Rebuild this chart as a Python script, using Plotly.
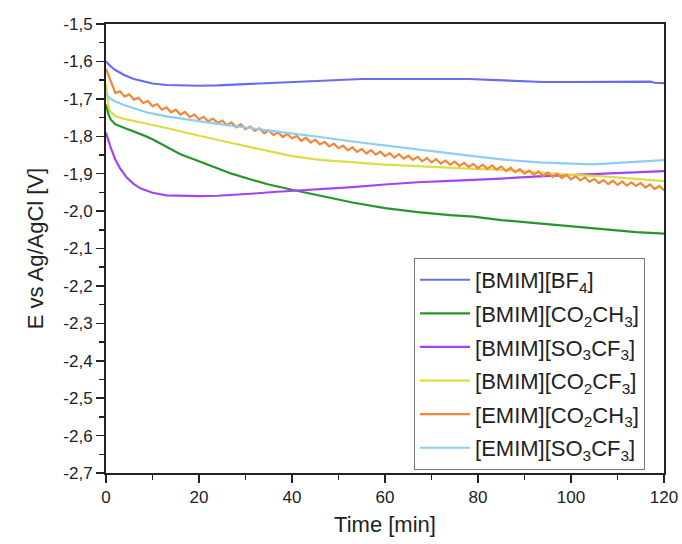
import plotly.graph_objects as go

# ---------------- data ----------------
bf4_t = [0, 1, 2, 4, 6, 8, 10, 13, 17, 20, 24, 28, 32, 36, 40, 45, 50, 55, 60, 70, 78, 84, 88, 94, 100, 110, 115, 117, 118, 120]
bf4_v = [-1.600, -1.613, -1.623, -1.637, -1.647, -1.654, -1.659, -1.663, -1.665, -1.665, -1.664, -1.662, -1.660, -1.657, -1.655,
         -1.652, -1.649, -1.647, -1.647, -1.647, -1.647, -1.650, -1.652, -1.655, -1.655, -1.655, -1.656, -1.654, -1.657, -1.658]

bco2ch3_t = [0, 0.5, 1, 2, 4, 6, 8, 10, 13, 16, 20, 24, 27, 31, 35, 40, 46, 53, 60, 67, 74, 79, 85, 93, 100, 107, 114, 120]
bco2ch3_v = [-1.715, -1.740, -1.755, -1.768, -1.778, -1.787, -1.797, -1.808, -1.828, -1.848, -1.867, -1.886, -1.900, -1.915,
             -1.929, -1.943, -1.959, -1.977, -1.992, -2.003, -2.011, -2.015, -2.024, -2.033, -2.040, -2.048, -2.056, -2.060]

bso3cf3_t = [0, 0.5, 1, 2, 3, 4.5, 6, 7.5, 10, 13, 17, 20, 24, 28, 32, 36, 40, 46, 53, 60, 67, 74, 80, 85, 93, 100, 107, 114, 120]
bso3cf3_v = [-1.790, -1.810, -1.830, -1.862, -1.885, -1.911, -1.928, -1.940, -1.951, -1.958, -1.960, -1.960, -1.959, -1.957,
             -1.953, -1.949, -1.946, -1.942, -1.936, -1.929, -1.923, -1.919, -1.916, -1.913, -1.907, -1.903, -1.900, -1.896, -1.893]

bco2cf3_t = [0, 0.3, 0.6, 1, 2, 4, 6, 9, 13, 17, 20, 24, 27, 31, 35, 40, 46, 53, 60, 67, 74, 79, 85, 93, 100, 107, 114, 120]
bco2cf3_v = [-1.660, -1.700, -1.725, -1.735, -1.746, -1.754, -1.759, -1.768, -1.778, -1.790, -1.799, -1.810, -1.818, -1.829,
             -1.840, -1.853, -1.863, -1.870, -1.876, -1.880, -1.885, -1.887, -1.889, -1.896, -1.903, -1.907, -1.913, -1.920]

eco2ch3_t = list(range(0, 121))
eco2ch3_v = [-1.620, -1.650, -1.684, -1.680, -1.694, -1.688, -1.702, -1.697, -1.711, -1.706,
             -1.720, -1.714, -1.729, -1.723, -1.736, -1.729, -1.742, -1.735, -1.749, -1.742,
             -1.755, -1.748, -1.760, -1.753, -1.765, -1.758, -1.770, -1.763, -1.776, -1.768,
             -1.781, -1.774, -1.786, -1.779, -1.792, -1.784, -1.797, -1.789, -1.802, -1.794,
             -1.806, -1.799, -1.812, -1.804, -1.817, -1.809, -1.822, -1.815, -1.827, -1.820,
             -1.832, -1.825, -1.837, -1.830, -1.842, -1.834, -1.846, -1.837, -1.849, -1.841,
             -1.853, -1.845, -1.857, -1.848, -1.860, -1.852, -1.863, -1.855, -1.867, -1.858,
             -1.870, -1.861, -1.873, -1.865, -1.876, -1.868, -1.879, -1.871, -1.882, -1.874,
             -1.885, -1.876, -1.887, -1.878, -1.889, -1.881, -1.893, -1.884, -1.896, -1.888,
             -1.900, -1.892, -1.903, -1.894, -1.906, -1.897, -1.909, -1.900, -1.912, -1.903,
             -1.915, -1.907, -1.918, -1.910, -1.922, -1.914, -1.925, -1.917, -1.928, -1.919,
             -1.930, -1.921, -1.932, -1.923, -1.933, -1.925, -1.937, -1.929, -1.941, -1.933,
             -1.945]

eso3cf3_t = [0, 0.5, 1, 2, 4, 6, 9, 13, 17, 20, 24, 27, 31, 35, 40, 46, 53, 60, 67, 74, 79, 85, 93, 100, 105, 110, 115, 120]
eso3cf3_v = [-1.685, -1.695, -1.700, -1.707, -1.717, -1.725, -1.737, -1.747, -1.755, -1.760, -1.767, -1.772, -1.778, -1.784,
             -1.792, -1.802, -1.814, -1.825, -1.834, -1.845, -1.853, -1.862, -1.870, -1.873, -1.875, -1.871, -1.868, -1.864]

series_names = ["[BMIM][BF<sub>4</sub>]", "[BMIM][CO<sub>2</sub>CH<sub>3</sub>]", "[BMIM][SO<sub>3</sub>CF<sub>3</sub>]",
                "[BMIM][CO<sub>2</sub>CF<sub>3</sub>]", "[EMIM][CO<sub>2</sub>CH<sub>3</sub>]", "[EMIM][SO<sub>3</sub>CF<sub>3</sub>]"]

x_tick_vals = [0, 20, 40, 60, 80, 100, 120]
x_tick_text = ["0", "20", "40", "60", "80", "100", "120"]
y_tick_vals = [-2.7, -2.6, -2.5, -2.4, -2.3, -2.2, -2.1, -2.0, -1.9, -1.8, -1.7, -1.6, -1.5]
y_tick_text = ["-2,7", "-2,6", "-2,5", "-2,4", "-2,3", "-2,2", "-2,1", "-2,0", "-1,9", "-1,8", "-1,7", "-1,6", "-1,5"]

# ---------------- styling ----------------
colors = ["#6b6bf2", "#26962a", "#a046f0", "#dcdc46", "#f0873a", "#8ccdf2"]
FONT = "Liberation Sans, Arial, sans-serif"
INK = "#222222"

xs = [bf4_t, bco2ch3_t, bso3cf3_t, bco2cf3_t, eco2ch3_t, eso3cf3_t]
ys = [bf4_v, bco2ch3_v, bso3cf3_v, bco2cf3_v, eco2ch3_v, eso3cf3_v]

fig = go.Figure()
for i in range(len(series_names)):
    fig.add_trace(go.Scatter(
        x=xs[i], y=ys[i], mode="lines", name=series_names[i],
        line=dict(color=colors[i], width=2.2), legendgroup=f"g{i}"))

axis_common = dict(
    showline=True, linecolor=INK, linewidth=2, mirror=True,
    ticks="outside", tickcolor=INK, tickwidth=1.5, ticklen=8,
    showgrid=False, zeroline=False, automargin=False,
    tickfont=dict(family=FONT, size=17, color=INK),
)

fig.update_layout(
    width=682, height=544,
    margin=dict(l=106, r=18, t=24, b=71),
    paper_bgcolor="white", plot_bgcolor="white",
    font=dict(family=FONT, color=INK),
    showlegend=True,
    legend=dict(
        x=0.552, y=0.479, xanchor="left", yanchor="top",
        bgcolor="white", bordercolor="#777777", borderwidth=1,
        font=dict(family=FONT, size=22, color=INK),
        tracegroupgap=2, itemwidth=50,
    ),
    xaxis=dict(
        range=[0, 120], tickmode="array", tickvals=x_tick_vals, ticktext=x_tick_text,
        minor=dict(tick0=0, dtick=10, ticks="outside", ticklen=5, tickcolor=INK, tickwidth=1.5),
        title=dict(text="Time [min]", font=dict(family=FONT, size=22, color=INK), standoff=10),
        **axis_common),
    yaxis=dict(
        range=[-2.7, -1.5], tickmode="array", tickvals=y_tick_vals, ticktext=y_tick_text,
        minor=dict(tick0=-2.7, dtick=0.05, ticks="outside", ticklen=5, tickcolor=INK, tickwidth=1.5),
        title=dict(text="E vs Ag/AgCl [V]", font=dict(family=FONT, size=22, color=INK), standoff=14),
        **axis_common),
)

# remove the page's default body margin so the figure fills the window exactly
page_js = "document.body.style.margin='0';document.documentElement.style.overflow='hidden';"
fig.write_html("out.html", post_script=page_js, config={"displayModeBar": False, "staticPlot": True})
